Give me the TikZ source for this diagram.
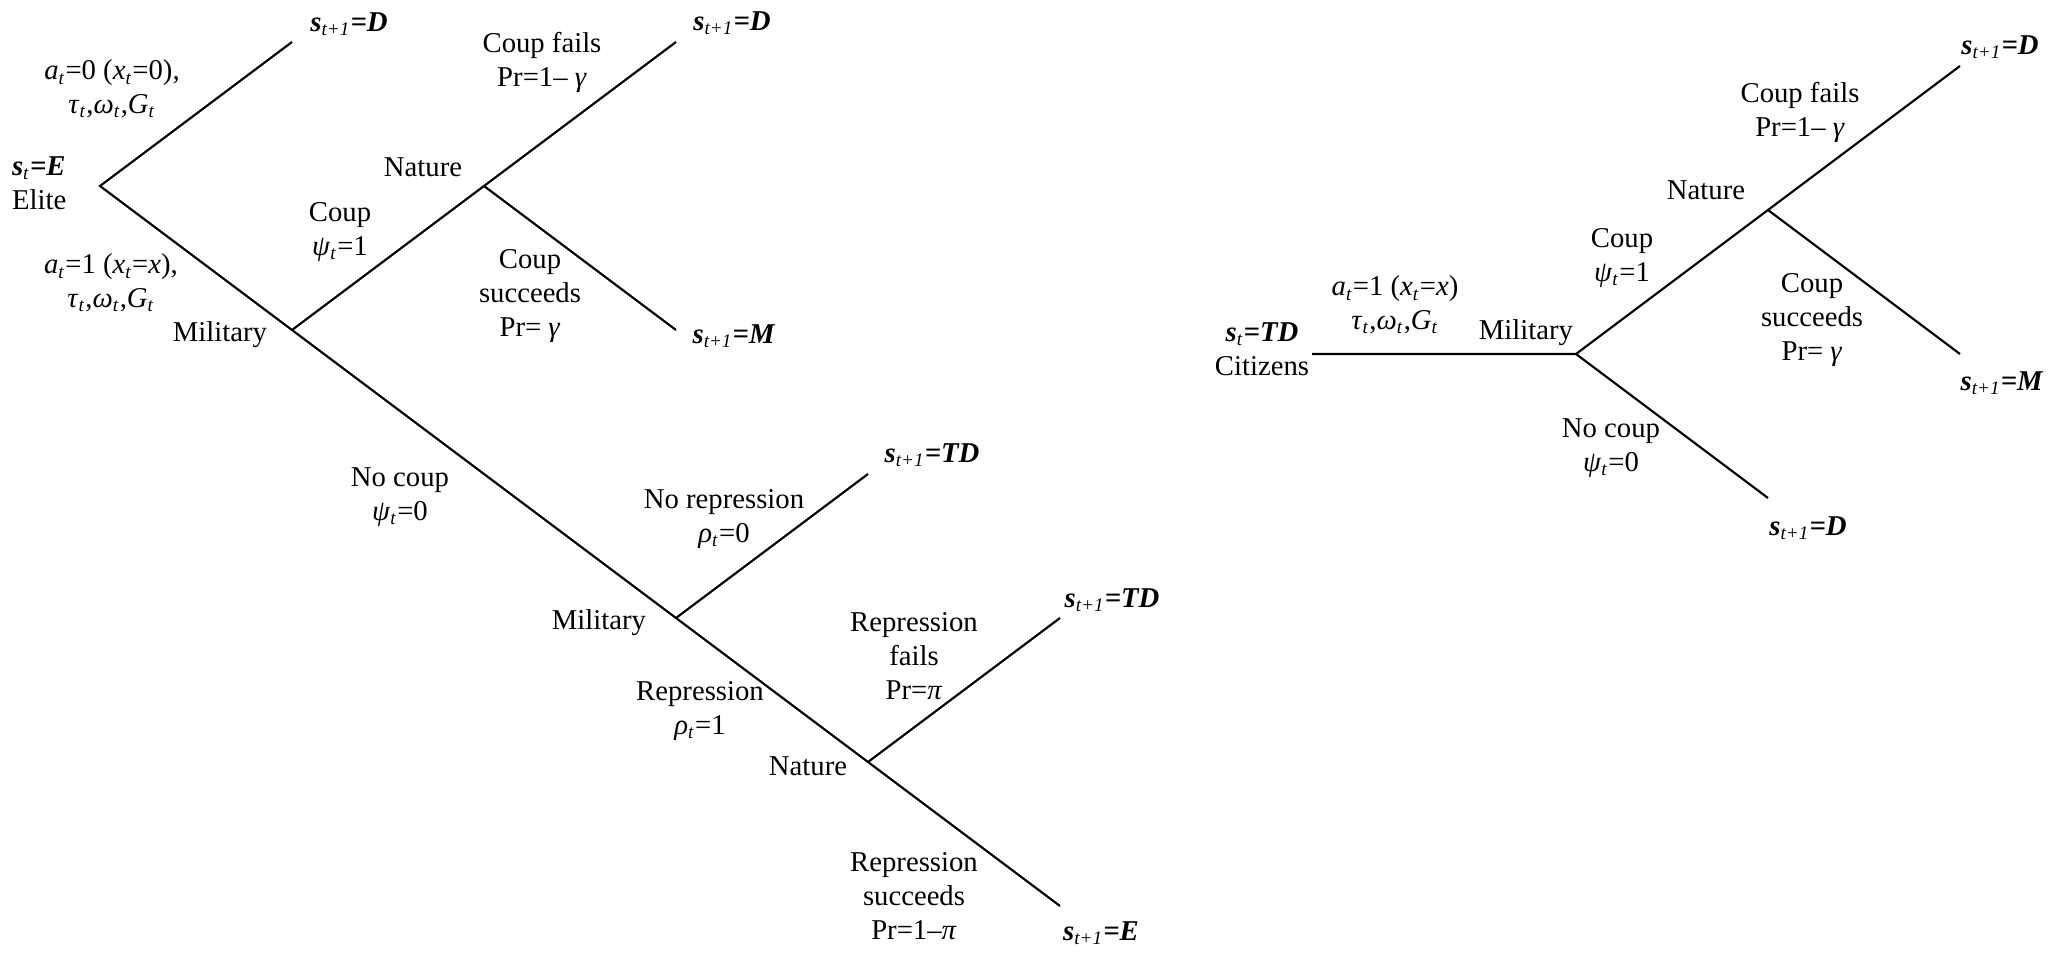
\documentclass[tikz,border=0pt]{standalone}
\usepackage{fontspec}
\setmainfont{Liberation Serif}
\newcommand{\vsub}[2]{\textit{#1}\textsubscript{\textit{#2}}}
\newcommand{\state}[2]{\textbf{\textit{s}}\textsubscript{\textit{#1}}\textbf{\textit{=#2}}}
\begin{document}
\begin{tikzpicture}[x=0.0147cm, y=-0.0147cm, line width=0.9pt,
    txt/.style={align=center, font=\fontsize{12}{14.2}\selectfont},
    endst/.style={font=\fontsize{12}{14.2}\selectfont}]
\useasboundingbox (0,0) rectangle (2069,953);

% state E: elite moves first
\coordinate (elite) at (100,186);
\coordinate (dA) at (292,42);
\coordinate (mil1) at (292,330);
\coordinate (nat1) at (484,186);
\coordinate (dB) at (676,42);
\coordinate (mA) at (676,330);
\coordinate (mil2) at (676,618);
\coordinate (tdA) at (868,474);
\coordinate (nat2) at (868,762);
\coordinate (tdB) at (1060,618);
\coordinate (eA) at (1060,906);

\draw (dA) -- (elite) -- (mil1) -- (mil2) -- (nat2) -- (eA);
\draw (mil1) -- (nat1) -- (dB);
\draw (nat1) -- (mA);
\draw (mil2) -- (tdA);
\draw (nat2) -- (tdB);

\node[txt, align=left, anchor=west] (elitelbl) at (3,183) {\state{t}{E}\\Elite};
\node[txt] (a0) at (112,89) {\vsub{a}{t}=0 (\vsub{x}{t}=0),\\\vsub{τ}{t},\vsub{ω}{t},\vsub{G}{t}};
\node[txt] (a1) at (111,283) {\vsub{a}{t}=1 (\vsub{x}{t}=\textit{x}),\\\vsub{τ}{t},\vsub{ω}{t},\vsub{G}{t}};
\node[endst] (dAlbl) at (349,24) {\state{t+1}{D}};
\node[txt] (mil1lbl) at (220,335) {Military};
\node[txt] (coupA) at (340,232) {Coup\\\vsub{ψ}{t}=1};
\node[txt] (nat1lbl) at (423,167) {Nature};
\node[txt] (failA) at (542,62) {Coup fails\\Pr=1– \textit{γ}};
\node[endst] (dBlbl) at (732,23) {\state{t+1}{D}};
\node[txt] (succA) at (530,296) {Coup\\succeeds\\Pr= \textit{γ}};
\node[endst] (mAlbl) at (734,336) {\state{t+1}{M}};
\node[txt] (nocoupA) at (400,497) {No coup\\\vsub{ψ}{t}=0};

% military decides on repression
\node[txt] (norep) at (724,519) {No repression\\\vsub{ρ}{t}=0};
\node[endst] (tdAlbl) at (932,455) {\state{t+1}{TD}};
\node[txt] (mil2lbl) at (599,623) {Military};
\node[txt] (rep) at (700,711) {Repression\\\vsub{ρ}{t}=1};
\node[txt] (repfail) at (914,656) {Repression\\fails\\Pr=\textit{π}};
\node[endst] (tdBlbl) at (1112,600) {\state{t+1}{TD}};
\node[txt] (nat2lbl) at (808,766) {Nature};
\node[txt] (repsucc) at (914,896) {Repression\\succeeds\\Pr=1–\textit{π}};
\node[endst] (eAlbl) at (1101,933) {\state{t+1}{E}};

% state TD: citizens move first
\coordinate (cit) at (1312,354);
\coordinate (mil3) at (1576,354);
\coordinate (nat3) at (1768,210);
\coordinate (dC) at (1960,66);
\coordinate (mB) at (1960,354);
\coordinate (dD) at (1768,498);

\draw (cit) -- (mil3) -- (nat3) -- (dC);
\draw (nat3) -- (mB);
\draw (mil3) -- (dD);

\node[txt] (citlbl) at (1262,349) {\state{t}{TD}\\Citizens};
\node[txt] (a2) at (1395,305) {\vsub{a}{t}=1 (\vsub{x}{t}=\textit{x})\\\vsub{τ}{t},\vsub{ω}{t},\vsub{G}{t}};
\node[txt] (mil3lbl) at (1526,333) {Military};
\node[txt] (coupB) at (1622,258) {Coup\\\vsub{ψ}{t}=1};
\node[txt] (nat3lbl) at (1706,190) {Nature};
\node[txt] (failB) at (1800,112) {Coup fails\\Pr=1– \textit{γ}};
\node[endst] (dClbl) at (2000,47) {\state{t+1}{D}};
\node[txt] (succB) at (1812,320) {Coup\\succeeds\\Pr= \textit{γ}};
\node[endst] (mBlbl) at (2002,383) {\state{t+1}{M}};
\node[txt] (nocoupB) at (1611,448) {No coup\\\vsub{ψ}{t}=0};
\node[endst] (dDlbl) at (1808,528) {\state{t+1}{D}};
\end{tikzpicture}
\end{document}
